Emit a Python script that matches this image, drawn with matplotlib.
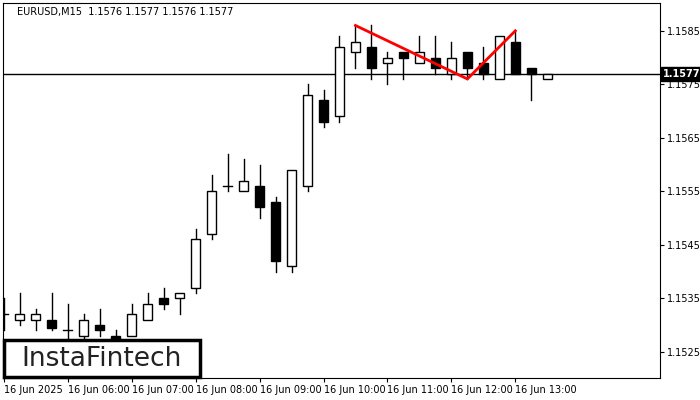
import matplotlib.pyplot as plt
from matplotlib.patches import Rectangle

opens  = [1.1532, 1.1531, 1.1531, 1.1531, 1.1529, 1.1528, 1.1530, 1.1528, 1.1528, 1.1531,
          1.1535, 1.1535, 1.1537, 1.1547, 1.1556, 1.1555, 1.1556, 1.1553, 1.1541, 1.1556,
          1.1572, 1.1569, 1.1581, 1.1582, 1.1579, 1.1581, 1.1579, 1.1580, 1.1577, 1.1581,
          1.1579, 1.1576, 1.1583, 1.1578, 1.1576]
closes = [1.1532, 1.1532, 1.1532, 1.15295, 1.1529, 1.1531, 1.1529, 1.1527, 1.1532, 1.1534,
          1.1534, 1.1536, 1.1546, 1.1555, 1.1556, 1.1557, 1.1552, 1.1542, 1.1559, 1.1573,
          1.1568, 1.1582, 1.1583, 1.1578, 1.1580, 1.1580, 1.1581, 1.1578, 1.1580, 1.1578,
          1.1577, 1.1584, 1.1577, 1.1577, 1.1577]
highs  = [1.1535, 1.1536, 1.1533, 1.1536, 1.1534, 1.1532, 1.1533, 1.1529, 1.1534, 1.1536,
          1.1537, 1.1536, 1.1548, 1.1558, 1.1562, 1.1561, 1.1560, 1.1554, 1.1559, 1.1575,
          1.1574, 1.1584, 1.1586, 1.1586, 1.1581, 1.1581, 1.1584, 1.1584, 1.1583, 1.1581,
          1.1582, 1.1584, 1.1585, 1.1578, 1.1577]
lows   = [1.1529, 1.1530, 1.1529, 1.1529, 1.1527, 1.1527, 1.1528, 1.1526, 1.1528, 1.1531,
          1.1533, 1.1532, 1.1536, 1.1546, 1.1555, 1.1555, 1.1550, 1.1540, 1.1540, 1.1555,
          1.1567, 1.1568, 1.1578, 1.1576, 1.1575, 1.1576, 1.1579, 1.1577, 1.1576, 1.1576,
          1.1576, 1.1576, 1.1577, 1.1572, 1.1576]
time_labels = ["16 Jun 2025", "16 Jun 06:00", "16 Jun 07:00", "16 Jun 08:00", "16 Jun 09:00",
               "16 Jun 10:00", "16 Jun 11:00", "16 Jun 12:00", "16 Jun 13:00"]
price_ticks = [1.1525, 1.1535, 1.1545, 1.1555, 1.1565, 1.1575, 1.1585]
pattern_idx = [22, 29, 32]
pattern_px = [1.1586, 1.1576, 1.1585]
last_price = 1.1577

fig = plt.figure(figsize=(7, 4), dpi=100)
ax = fig.add_axes([3/700, 22/400, 657/700, 375/400])
w = 0.55
for i, (o, c, h, l) in enumerate(zip(opens, closes, highs, lows)):
    ax.plot([i, i], [l, min(o, c)], color='black', lw=1, zorder=2)
    ax.plot([i, i], [max(o, c), h], color='black', lw=1, zorder=2)
    if abs(c - o) < 0.00002:
        ax.plot([i - w/2, i + w/2], [o, o], color='black', lw=1, zorder=3)
    else:
        ax.add_patch(Rectangle((i - w/2, min(o, c)), w, abs(c - o),
                               facecolor='white' if c > o else 'black',
                               edgecolor='black', lw=1, zorder=3))

ax.axhline(last_price, color='black', lw=1, zorder=1)
ax.plot(pattern_idx, pattern_px, color='red', lw=2, zorder=4)

ax.set_xlim(-0.05, 41.05)
ax.set_ylim(1.15201, 1.15902)
ax.set_xticks([4 * k for k in range(len(time_labels))])
ax.set_xticklabels(time_labels, fontsize=7, ha='left')
ax.yaxis.tick_right()
ax.set_yticks(price_ticks)
ax.set_yticklabels([f"{p:.4f}" for p in price_ticks], fontsize=7)
ax.tick_params(length=3, pad=2)
ax.text(1.004, last_price, f"{last_price:.4f}", transform=ax.get_yaxis_transform(),
        fontsize=7, color='white', va='center', ha='left', fontweight='bold',
        bbox=dict(facecolor='black', edgecolor='black', pad=1.5))

fig.text(17/700, 1 - 12/400, "EURUSD,M15  1.1576 1.1577 1.1576 1.1577", fontsize=7, va='center')

# logo box
fig.patches.append(Rectangle((4/700, 23/400), 196/700, 37/400, transform=fig.transFigure,
                             facecolor='white', edgecolor='black', lw=2.5, zorder=6))
fig.text(102/700, 41/400, "InstaFintech", fontsize=19, ha='center', va='center',
         color='#222222', zorder=7)

fig.savefig("out.png", dpi=100)
